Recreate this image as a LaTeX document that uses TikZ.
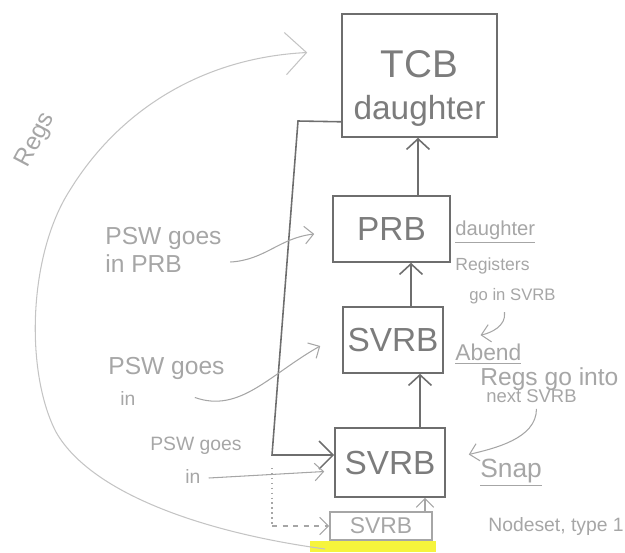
\documentclass[tikz,border=0pt]{standalone}
\usepackage{fontspec}
\setmainfont{Liberation Sans}
\usetikzlibrary{positioning,calc,arrows.meta}
\definecolor{pencil}{HTML}{6E6E6E}
\definecolor{pencilLight}{HTML}{A6A6A6}
\definecolor{pencilFaint}{HTML}{C4C4C4}
\definecolor{marker}{HTML}{F6F43C}

\begin{document}
\begin{tikzpicture}[x=0.02cm,y=-0.02cm,
  blockBox/.style ={rectangle, draw=pencil, line width=0.9pt, text=pencil!90, align=center, inner sep=0pt},
  conn/.style     ={draw=pencil, line width=0.9pt, -{Straight Barb[length=6pt,width=13pt]}},
  hint/.style     ={draw=pencilLight, line width=0.6pt, -{Straight Barb[length=5pt,width=10pt]}},
  noteText/.style ={text=pencilLight, align=left, inner sep=0pt, anchor=west},
]
% page: 625 x 552 px, one px = 0.02cm, y runs downwards
\useasboundingbox (0,0) rectangle (625,552);
\fill[marker] (310,541) rectangle (436,552);
% control blocks, top to bottom
\node[blockBox, minimum width=3.1cm,  minimum height=2.46cm] (tcb)   at (419.5,75.5)
  {\fontsize{22}{26}\selectfont\rule{0pt}{30pt}TCB\\[9pt]\fontsize{19}{22}\selectfont daughter};
\node[blockBox, minimum width=2.34cm, minimum height=1.32cm, font=\fontsize{19}{22}\selectfont] (prb)   at (391.5,229) {PRB};
\node[blockBox, minimum width=2.0cm,  minimum height=1.32cm, font=\fontsize{19}{22}\selectfont] (svrbA) at (393,340)   {SVRB};
\node[blockBox, minimum width=2.2cm,  minimum height=1.38cm, font=\fontsize{19}{22}\selectfont] (svrbB) at (390,462.5) {SVRB};
\node[blockBox, draw=pencilLight, text=pencilLight, minimum width=2.04cm, minimum height=0.56cm,
      font=\fontsize{13}{15}\selectfont] (svrbC) at (381,526) {SVRB};
% chain upwards
\coordinate (upA) at ($(prb.north)+(26.5,0)$);
\coordinate (upB) at ($(svrbA.north)+(18,0)$);
\coordinate (upC) at ($(svrbB.north)+(30,0)$);
\coordinate (upD) at ($(svrbC.north)+(44,0)$);
\draw[conn] (upA) -- (upA |- tcb.south);
\draw[conn] (upB) -- (upB |- prb.south);
\draw[conn] (upC) -- (upC |- svrbA.south);
\draw[hint] (upD) -- (upD |- svrbB.south);
% back from the TCB down to the lower SVRB
\coordinate (tcbOut)  at ($(tcb.south west)+(0,-16)$);
\coordinate (kneeTop) at (298,121);
\coordinate (kneeBot) at (272,455);
\draw[conn, -{Straight Barb[length=8pt,width=16pt]}] (tcbOut) -- (kneeTop) -- (kneeBot) -- (kneeBot -| svrbB.west);
\coordinate (dotTop) at (272,468);
\draw[pencilLight, dotted, line width=0.8pt] (dotTop) -- (dotTop |- svrbC.west);
\draw[hint, dashed] (dotTop |- svrbC.west) -- (svrbC.west);
% Regs sweep on the left
\coordinate (regsFoot) at (325,549);
\draw[draw=pencilFaint, line width=0.6pt, -{Straight Barb[length=12pt,width=24pt]}]
  (regsFoot) .. controls (200,532) and (90,492) .. (56,432)
  .. controls (25,372) and (28,255) .. (70,190)
  .. controls (118,112) and (200,58) .. ($(tcb.west)+(-34,-23)$);
\node[text=pencilLight, rotate=62, font=\fontsize{14}{16}\selectfont] (regs) at (36,140) {Regs};
% PSW notes
\node[noteText, font=\fontsize{14}{16}\selectfont] (pswA) at (105,238) {PSW goes};
\node[noteText, font=\fontsize{14}{16}\selectfont, below=3pt of pswA.south west, anchor=north west] (inA) {in PRB};
\draw[hint] ($(inA.east)+(48,-2)$) .. controls +(35,-2) and +(-35,4) .. ($(prb.west)+(-18,5)$);
\node[noteText, font=\fontsize{14}{16}\selectfont] (pswB) at (108,368) {PSW goes};
\node[noteText, font=\fontsize{11}{13}\selectfont] (inB) at (120,398) {in};
\draw[hint] ($(pswB.south east)+(-30,18)$) .. controls +(45,16) and +(-50,28) .. ($(svrbA.west)+(-22,6)$);
\node[noteText, font=\fontsize{11}{13}\selectfont] (pswC) at (150,446) {PSW goes};
\node[noteText, font=\fontsize{11}{13}\selectfont] (inC) at (185,476) {in};
\draw[hint] ($(inC.east)+(8,2)$) -- ($(svrbB.west)+(-10,9)$);
% right hand side notes
\node[noteText, font=\fontsize{11.5}{14}\selectfont] (daughterNote) at (455,232) {\underline{daughter}};
\node[noteText, font=\fontsize{10}{12}\selectfont] (registers) at (455,266) {Registers};
\node[noteText, font=\fontsize{9.5}{12}\selectfont] (goIn) at (469,296) {go in SVRB};
\draw[hint] ($(goIn.south)+(-8,8)$) .. controls +(2,14) and +(10,-2) .. ($(goIn.south)+(-32,31)$);
\node[noteText, font=\fontsize{13}{15}\selectfont] (abend) at (455,354) {\underline{Abend}};
\node[noteText, font=\fontsize{14}{16}\selectfont] (regsGo) at (480,379) {Regs go into};
\node[noteText, font=\fontsize{10.5}{13}\selectfont] (nextSvrb) at (486,396) {next SVRB};
\draw[hint] ($(nextSvrb.south)+(5,6)$) .. controls +(0,30) and +(25,-6) .. ($(svrbB.east)+(23,-8)$);
\node[noteText, font=\fontsize{15}{17}\selectfont] (snap) at (480,473) {\underline{Snap}};
\node[noteText, font=\fontsize{11}{13}\selectfont] (nodeset) at (488,526) {Nodeset, type 1};
\end{tikzpicture}
\end{document}
